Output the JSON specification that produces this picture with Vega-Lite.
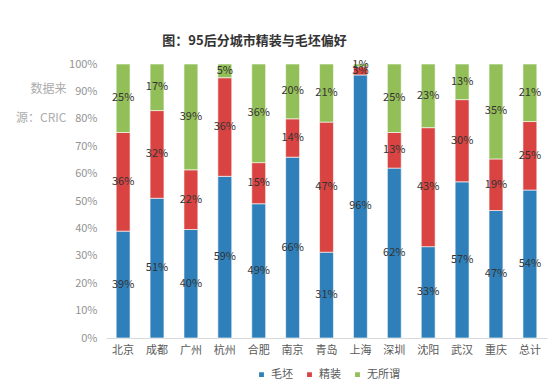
{
  "$schema": "https://vega.github.io/schema/vega-lite/v6.json",
  "autosize": "none",
  "width": 441,
  "height": 274,
  "padding": {"left": 106, "top": 64, "right": 5, "bottom": 54},
  "config": {
    "font": "Noto Sans CJK SC",
    "view": {"stroke": null},
    "axis": {"labelFont": "Noto Sans CJK SC", "titleFont": "Noto Sans CJK SC"},
    "axisY": {
      "format": ".0%",
      "tickCount": 10,
      "labelOverlap": false,
      "grid": false,
      "domain": false,
      "ticks": false,
      "labelColor": "#939393",
      "labelFontSize": 11,
      "labelPadding": 9,
      "titleAngle": 0,
      "titleAlign": "right",
      "titleBaseline": "middle",
      "titleX": -40,
      "titleY": 24,
      "titleLineHeight": 29,
      "titleColor": "#acacac",
      "titleFontSize": 12,
      "titleFontWeight": "normal"
    }
  },
  "title": {
    "text": "图：95后分城市精装与毛坯偏好",
    "fontSize": 13,
    "fontWeight": "bold",
    "color": "#333333",
    "anchor": "middle",
    "dx": -72,
    "offset": 10
  },
  "data": {
    "values": [
      {"city": "北京", "type": "毛坯", "o": 1, "v": 0.39}, {"city": "北京", "type": "精装", "o": 2, "v": 0.36}, {"city": "北京", "type": "无所谓", "o": 3, "v": 0.25},
      {"city": "成都", "type": "毛坯", "o": 1, "v": 0.51}, {"city": "成都", "type": "精装", "o": 2, "v": 0.32}, {"city": "成都", "type": "无所谓", "o": 3, "v": 0.17},
      {"city": "广州", "type": "毛坯", "o": 1, "v": 0.40}, {"city": "广州", "type": "精装", "o": 2, "v": 0.22}, {"city": "广州", "type": "无所谓", "o": 3, "v": 0.39},
      {"city": "杭州", "type": "毛坯", "o": 1, "v": 0.59}, {"city": "杭州", "type": "精装", "o": 2, "v": 0.36}, {"city": "杭州", "type": "无所谓", "o": 3, "v": 0.05},
      {"city": "合肥", "type": "毛坯", "o": 1, "v": 0.49}, {"city": "合肥", "type": "精装", "o": 2, "v": 0.15}, {"city": "合肥", "type": "无所谓", "o": 3, "v": 0.36},
      {"city": "南京", "type": "毛坯", "o": 1, "v": 0.66}, {"city": "南京", "type": "精装", "o": 2, "v": 0.14}, {"city": "南京", "type": "无所谓", "o": 3, "v": 0.20},
      {"city": "青岛", "type": "毛坯", "o": 1, "v": 0.31}, {"city": "青岛", "type": "精装", "o": 2, "v": 0.47}, {"city": "青岛", "type": "无所谓", "o": 3, "v": 0.21},
      {"city": "上海", "type": "毛坯", "o": 1, "v": 0.96}, {"city": "上海", "type": "精装", "o": 2, "v": 0.03}, {"city": "上海", "type": "无所谓", "o": 3, "v": 0.01},
      {"city": "深圳", "type": "毛坯", "o": 1, "v": 0.62}, {"city": "深圳", "type": "精装", "o": 2, "v": 0.13}, {"city": "深圳", "type": "无所谓", "o": 3, "v": 0.25},
      {"city": "沈阳", "type": "毛坯", "o": 1, "v": 0.33}, {"city": "沈阳", "type": "精装", "o": 2, "v": 0.43}, {"city": "沈阳", "type": "无所谓", "o": 3, "v": 0.23},
      {"city": "武汉", "type": "毛坯", "o": 1, "v": 0.57}, {"city": "武汉", "type": "精装", "o": 2, "v": 0.30}, {"city": "武汉", "type": "无所谓", "o": 3, "v": 0.13},
      {"city": "重庆", "type": "毛坯", "o": 1, "v": 0.47}, {"city": "重庆", "type": "精装", "o": 2, "v": 0.19}, {"city": "重庆", "type": "无所谓", "o": 3, "v": 0.35},
      {"city": "总计", "type": "毛坯", "o": 1, "v": 0.54}, {"city": "总计", "type": "精装", "o": 2, "v": 0.25}, {"city": "总计", "type": "无所谓", "o": 3, "v": 0.21}
    ]
  },
  "encoding": {
    "x": {
      "field": "city",
      "type": "nominal",
      "sort": null,
      "scale": {"paddingInner": 0.59, "paddingOuter": 0.3},
      "axis": {
        "title": null,
        "labelAngle": 0,
        "labelColor": "#595959",
        "labelFontSize": 11,
        "labelPadding": 6,
        "ticks": false,
        "domainColor": "#d9d9d9"
      }
    }
  },
  "layer": [
    {
      "mark": {"type": "bar", "stroke": "#ffffff", "strokeWidth": 0.6},
      "encoding": {
        "y": {
          "field": "v",
          "type": "quantitative",
          "stack": "normalize",
          "scale": {"domain": [0, 1]},
          "axis": {"title": ["数据来", "源：CRIC"], "tickCount": 10}
        },
        "color": {
          "field": "type",
          "type": "nominal",
          "sort": ["毛坯", "精装", "无所谓"],
          "scale": {"domain": ["毛坯", "精装", "无所谓"], "range": ["#2f80ba", "#d94442", "#93bf58"]},
          "legend": {
            "title": null,
            "orient": "none",
            "direction": "horizontal",
            "legendX": 150,
            "legendY": 305,
            "symbolType": "square",
            "symbolSize": 40,
            "labelColor": "#595959",
            "labelFontSize": 11,
            "columnPadding": 10,
            "symbolOffset": 0
          }
        },
        "order": {"field": "o", "type": "quantitative"}
      }
    },
    {
      "mark": {"type": "text", "color": "#333333", "fontSize": 11},
      "encoding": {
        "y": {"field": "v", "type": "quantitative", "stack": "normalize", "bandPosition": 0.5, "axis": {"title": ["数据来", "源：CRIC"], "tickCount": 10}},
        "text": {"field": "v", "type": "quantitative", "format": ".0%"},
        "detail": {"field": "type"},
        "order": {"field": "o", "type": "quantitative"}
      }
    }
  ]
}
